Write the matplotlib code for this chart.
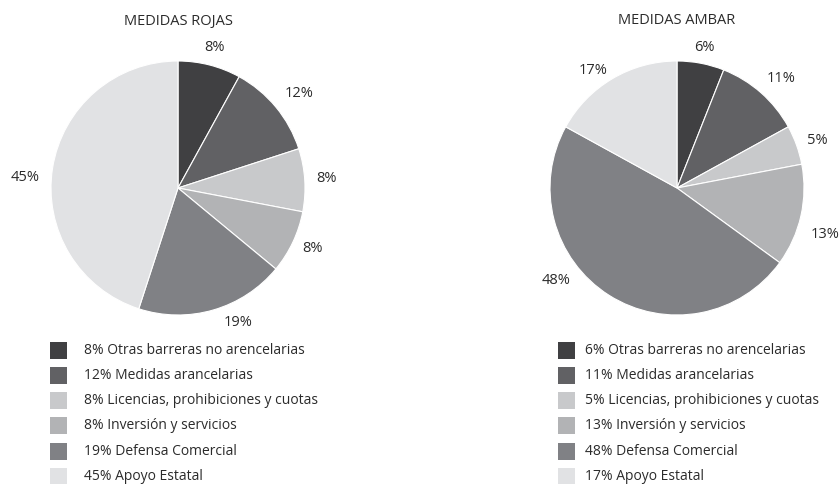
import numpy as np
import matplotlib
matplotlib.use("Agg")
import matplotlib.pyplot as plt
from matplotlib.patches import Rectangle

plt.rcParams['font.family'] = ['Open Sans', 'DejaVu Sans']

categorias = ["Otras barreras no arencelarias", "Medidas arancelarias",
              "Licencias, prohibiciones y cuotas", "Inversión y servicios",
              "Defensa Comercial", "Apoyo Estatal"]
rojas = [8, 12, 8, 8, 19, 45]
ambar = [6, 11, 5, 13, 48, 17]
colores = ["#404042", "#616164", "#c8c9cb", "#b2b3b5", "#808185", "#e1e2e4"]

# ajuste de las etiquetas (grados, distancia relativa) como en el original
ajuste_rojas = [(0, 1.14), (-1.5, 1.21), (0, 1.17), (1, 1.16), (8, 1.16), (5, 1.21)]
ajuste_ambar = [(0, 1.13), (-2, 1.19), (-1, 1.17), (-5, 1.22), (-20, 1.2), (5, 1.14)]

W, H = 840, 484
fig = plt.figure(figsize=(W / 100, H / 100), dpi=100)

R = 127      # radio en px
LIM = 1.3
TXT = "#2b2b2b"


def dibujar_pie(cx, cy, valores, titulo, lx, tx, ajuste):
    half = R * LIM
    ax = fig.add_axes([(cx - half) / W, (H - cy - half) / H, 2 * half / W, 2 * half / H])
    wedges, _, autotexts = ax.pie(valores, colors=colores, startangle=90, counterclock=False, radius=1,
                                  autopct=lambda p: "%.0f%%" % p, pctdistance=1.18,
                                  wedgeprops=dict(edgecolor="white", linewidth=0.8),
                                  textprops=dict(fontsize=10.5, color=TXT))
    for w, t, (da, dist) in zip(wedges, autotexts, ajuste):
        ang = np.deg2rad((w.theta1 + w.theta2) / 2 + da)
        t.set_position((dist * np.cos(ang), dist * np.sin(ang)))
    ax.set_xlim(-LIM, LIM)
    ax.set_ylim(-LIM, LIM)
    ax.set_aspect("equal")
    ax.axis("off")
    fig.text(cx / W, 1 - 21 / H, titulo, ha="center", va="center", fontsize=10.5, color=TXT)
    # leyenda
    for i, (cat, v) in enumerate(zip(categorias, valores)):
        y = 350 + i * 25.3
        fig.add_artist(Rectangle((lx / W, 1 - (y + 8.5) / H), 17 / W, 17 / H,
                                 transform=fig.transFigure, color=colores[i], lw=0))
        fig.text(tx / W, 1 - y / H, "%d%% %s" % (v, cat), ha="left", va="center",
                 fontsize=10, color=TXT)


dibujar_pie(178, 188, rojas, "MEDIDAS ROJAS", 50, 84, ajuste_rojas)
dibujar_pie(677, 188, ambar, "MEDIDAS AMBAR", 558, 585, ajuste_ambar)

fig.savefig("out.png", dpi=100, facecolor="white")
